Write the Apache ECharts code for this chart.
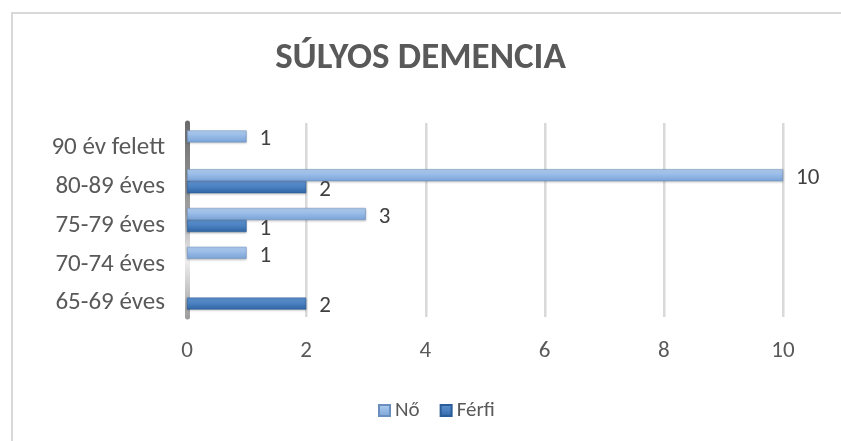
<!DOCTYPE html>
<html>
<head>
    <meta charset="utf-8">
    <script src="https://cdn.jsdelivr.net/npm/echarts@6/dist/echarts.min.js" type="text/javascript"></script>
</head>
<body style="margin:0;background:#fff">
    <div id="chart" style="width:841px;height:441px"></div>
    <script type="text/javascript">
    // kategóriák alulról felfelé
    var categories = ['65-69 éves', '70-74 éves', '75-79 éves', '80-89 éves', '90 év felett'];
    var noValues = [null, 1, 3, 10, 1];
    var ferfiValues = [2, null, 1, 2, null];
    var tickValues = [0, 2, 4, 6, 8, 10];

    var myChart = echarts.init(document.getElementById('chart'));

    var font = "Calibri, Carlito, 'Liberation Sans', sans-serif";
    // 3D hatás: függőleges színátmenet
    var noColor = new echarts.graphic.LinearGradient(0, 0, 0, 1, [
        { offset: 0, color: '#b3cff0' },
        { offset: 0.5, color: '#95b9e6' },
        { offset: 1, color: '#7aa3d6' }
    ]);
    var ferfiColor = new echarts.graphic.LinearGradient(0, 0, 0, 1, [
        { offset: 0, color: '#5e92cf' },
        { offset: 0.5, color: '#4a80c0' },
        { offset: 1, color: '#2f64a3' }
    ]);

    var option = {
        backgroundColor: '#fff',
        textStyle: { fontFamily: font },
        title: {
            text: 'SÚLYOS DEMENCIA',
            left: 'center',
            top: 35,
            textStyle: {
                fontSize: 37,
                fontWeight: 'bold',
                color: '#595959',
                fontFamily: font
            }
        },
        legend: {
            data: ['Nő', 'Férfi'],
            bottom: 15,
            left: 373,
            itemWidth: 11,
            itemHeight: 11,
            itemGap: 20,
            icon: 'rect',
            textStyle: { fontSize: 21, color: '#595959', fontFamily: font }
        },
        graphic: [{
            type: 'rect',
            shape: { x: 12, y: 13, width: 900, height: 500 },
            style: { fill: 'none', stroke: '#d9d9d9', lineWidth: 2 },
            silent: true
        }],
        grid: {
            left: 187,
            right: 58,
            top: 123,
            bottom: 124,
            containLabel: false
        },
        xAxis: {
            type: 'value',
            min: tickValues[0],
            max: tickValues[tickValues.length - 1],
            interval: 2,
            axisLine: { show: false },
            axisTick: { show: false },
            axisLabel: { fontSize: 23, color: '#595959', margin: 23, fontFamily: font },
            splitLine: {
                show: true,
                lineStyle: {
                    color: '#d9d9d9',
                    width: 2,
                    shadowColor: 'rgba(0,0,0,0.08)',
                    shadowOffsetX: 1
                }
            }
        },
        yAxis: {
            type: 'category',
            data: categories,
            axisTick: { show: false },
            axisLine: {
                show: true,
                lineStyle: {
                    width: 5,
                    color: new echarts.graphic.LinearGradient(0, 0, 0, 1, [
                        { offset: 0, color: '#6a6a6a' },
                        { offset: 0.45, color: '#a0a0a0' },
                        { offset: 0.7, color: '#f0f0f0' },
                        { offset: 1, color: '#9a9a9a' }
                    ])
                }
            },
            axisLabel: {
                margin: 22,
                formatter: '{a|{value}}',
                rich: {
                    a: {
                        fontSize: 25,
                        color: '#595959',
                        padding: [11, 0, 0, 0],
                        fontFamily: font
                    }
                }
            }
        },
        series: [{
            name: 'Nő',
            type: 'bar',
            data: noValues,
            barWidth: 12,
            barGap: '0%',
            itemStyle: {
                color: noColor,
                borderColor: '#6a8fbf',
                borderWidth: 0.5,
                shadowColor: 'rgba(0,0,0,0.2)',
                shadowOffsetY: 1,
                shadowBlur: 2
            },
            label: {
                show: true,
                position: 'right',
                distance: 13,
                offset: [0, 3],
                fontSize: 23,
                color: '#404040',
                fontFamily: font
            }
        }, {
            name: 'Férfi',
            type: 'bar',
            data: ferfiValues,
            barWidth: 12,
            barGap: '0%',
            itemStyle: {
                color: ferfiColor,
                borderColor: '#2b5d99',
                borderWidth: 0.5,
                shadowColor: 'rgba(0,0,0,0.25)',
                shadowOffsetY: 1,
                shadowBlur: 2
            },
            label: {
                show: true,
                position: 'right',
                distance: 13,
                offset: [0, 3],
                fontSize: 23,
                color: '#404040',
                fontFamily: font
            }
        }]
    };
    myChart.setOption(option);
    </script>
</body>
</html>
